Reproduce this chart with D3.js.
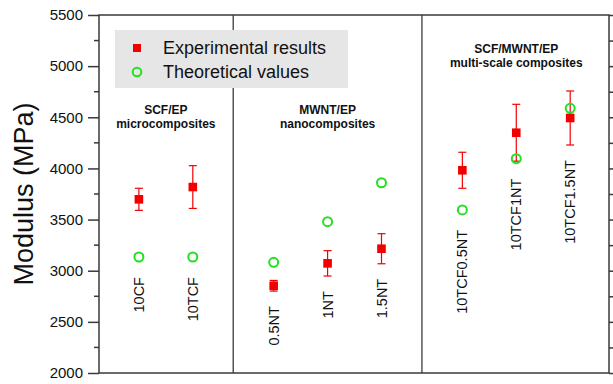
<!DOCTYPE html>
<html>
<head>
<meta charset="utf-8">
<script src="https://cdn.jsdelivr.net/npm/d3@7"></script>
<style>
  html, body { margin: 0; padding: 0; background: #fff; }
  svg { display: block; font-family: "Liberation Sans", Arial, sans-serif; }
</style>
</head>
<body>
<svg id="chart" width="613" height="384"></svg>
<script>
// Samples and their positions along the x axis (groups separated by wider gaps)
const samples   = ["10CF", "10TCF", "0.5NT", "1NT", "1.5NT", "10TCF0.5NT", "10TCF1NT", "10TCF1.5NT"];
const samplePos = [1, 2, 3.5, 4.5, 5.5, 7, 8, 9];

// Measured modulus (MPa) with standard deviation, and model predictions
const experimental = [3698, 3818, 2853, 3072, 3215, 3982, 4349, 4493];
const expError     = [108, 209, 52, 124, 147, 176, 278, 264];
const theoretical  = [3134, 3134, 3082, 3479, 3860, 3594, 4095, 4588];

// Composite groups: title lines, members and boundary between groups
const groupTitles  = [["SCF/EP", "microcomposites"], ["MWNT/EP", "nanocomposites"], ["SCF/MWNT/EP", "multi-scale composites"]];
const groupMembers = [[0, 1], [2, 3, 4], [5, 6, 7]];
const groupBounds  = [2.75, 6.25];

const yTicks = [2000, 2500, 3000, 3500, 4000, 4500, 5000, 5500];
const legendItems = ["Experimental results", "Theoretical values"];

const RED = "#f20000", GREEN = "#22e022", AXIS = "#3a3a3a";

const svg = d3.select("#chart");
const plotL = 99, plotR = 609, plotT = 15, plotB = 373;

const x = d3.scaleLinear().domain([0.26, 9.72]).range([plotL, plotR]);
const y = d3.scaleLinear().domain([2000, 5500]).range([plotB, plotT]);

// Group separators
svg.append("g").selectAll("line").data(groupBounds).join("line")
  .attr("x1", d => x(d)).attr("x2", d => x(d))
  .attr("y1", plotT).attr("y2", plotB)
  .attr("stroke", "#555").attr("stroke-width", 1.5);

// Legend
const lg = svg.append("g");
lg.append("rect").attr("x", 115).attr("y", 30).attr("width", 233).attr("height", 58).attr("fill", "#e6e6e6");
lg.append("rect").attr("x", 133).attr("y", 44).attr("width", 8).attr("height", 8).attr("fill", RED);
lg.append("circle").attr("cx", 137).attr("cy", 72).attr("r", 4.3)
  .attr("fill", "none").attr("stroke", GREEN).attr("stroke-width", 2);
lg.selectAll("text").data(legendItems).join("text")
  .attr("x", 163).attr("y", (d, i) => 48 + i * 24).attr("dy", "0.35em")
  .attr("font-size", 18).attr("fill", "#111").text(d => d);

// Group titles
groupTitles.forEach((lines, gi) => {
  const cx = x(d3.mean(groupMembers[gi], i => samplePos[i]));
  const base = gi === 2 ? 53 : 114;
  svg.append("g").selectAll("text").data(lines).join("text")
    .attr("x", cx).attr("y", (d, i) => base + i * 14)
    .attr("text-anchor", "middle").attr("font-size", 12).attr("font-weight", "bold")
    .attr("fill", "#111").text(d => d);
});

// Axes
const yAxisL = d3.axisLeft(y).tickValues(yTicks).tickSize(11).tickPadding(5).tickFormat(d3.format("d"));
const gL = svg.append("g").attr("transform", `translate(${plotL},0)`).call(yAxisL);
gL.select(".domain").remove();
gL.selectAll(".tick line").attr("stroke", AXIS).attr("stroke-width", 1.5);
gL.selectAll(".tick text").attr("font-size", 15).attr("fill", "#111")
  .attr("font-family", "Liberation Sans, Arial, sans-serif");
const minor = d3.range(2250, 5500, 500);
svg.append("g").selectAll("line").data(minor).join("line")
  .attr("x1", plotL - 5).attr("x2", plotL).attr("y1", d => y(d)).attr("y2", d => y(d))
  .attr("stroke", AXIS).attr("stroke-width", 1.5);

const gR = svg.append("g").attr("transform", `translate(${plotR},0)`)
  .call(d3.axisRight(y).tickValues(d3.range(2000, 5501, 250)).tickSize(6).tickFormat(""));
gR.select(".domain").remove();
gR.selectAll(".tick line").attr("stroke", AXIS).attr("stroke-width", 1.5);

// Frame
svg.append("rect").attr("x", plotL).attr("y", plotT).attr("width", plotR - plotL).attr("height", plotB - plotT)
  .attr("fill", "none").attr("stroke", AXIS).attr("stroke-width", 1.5);

// Axis title
svg.append("text").attr("transform", `translate(33,${(plotT + plotB) / 2}) rotate(-90)`)
  .attr("text-anchor", "middle").attr("font-size", 27).attr("fill", "#111").text("Modulus (MPa)");

const rows = samples.map((s, i) => ({
  name: s, pos: samplePos[i], exp: experimental[i], err: expError[i], theo: theoretical[i]
}));

// Error bars
const eb = svg.append("g").attr("stroke", RED).attr("stroke-width", 1.2);
rows.forEach(d => {
  const cx = x(d.pos);
  eb.append("line").attr("x1", cx).attr("x2", cx).attr("y1", y(d.exp + d.err)).attr("y2", y(d.exp - d.err));
  [d.exp + d.err, d.exp - d.err].forEach(v =>
    eb.append("line").attr("x1", cx - 4).attr("x2", cx + 4).attr("y1", y(v)).attr("y2", y(v)));
});

// Theoretical values
svg.append("g").selectAll("circle").data(rows).join("circle")
  .attr("cx", d => x(d.pos)).attr("cy", d => y(d.theo)).attr("r", 4.5)
  .attr("fill", "none").attr("stroke", GREEN).attr("stroke-width", 2);

// Experimental results
svg.append("g").selectAll("rect").data(rows).join("rect")
  .attr("x", d => x(d.pos) - 4.3).attr("y", d => y(d.exp) - 4.3)
  .attr("width", 8.6).attr("height", 8.6).attr("fill", RED);

// Sample labels, placed just below the lowest mark of each sample
svg.append("g").selectAll("text").data(rows).join("text")
  .attr("transform", d => {
    const low = Math.max(y(d.theo) + 5, y(d.exp - d.err));
    return `translate(${x(d.pos)},${low + 15}) rotate(-90)`;
  })
  .attr("text-anchor", "end").attr("dy", "0.35em")
  .attr("font-size", 14.5).attr("fill", "#111").text(d => d.name);
</script>
</body>
</html>
